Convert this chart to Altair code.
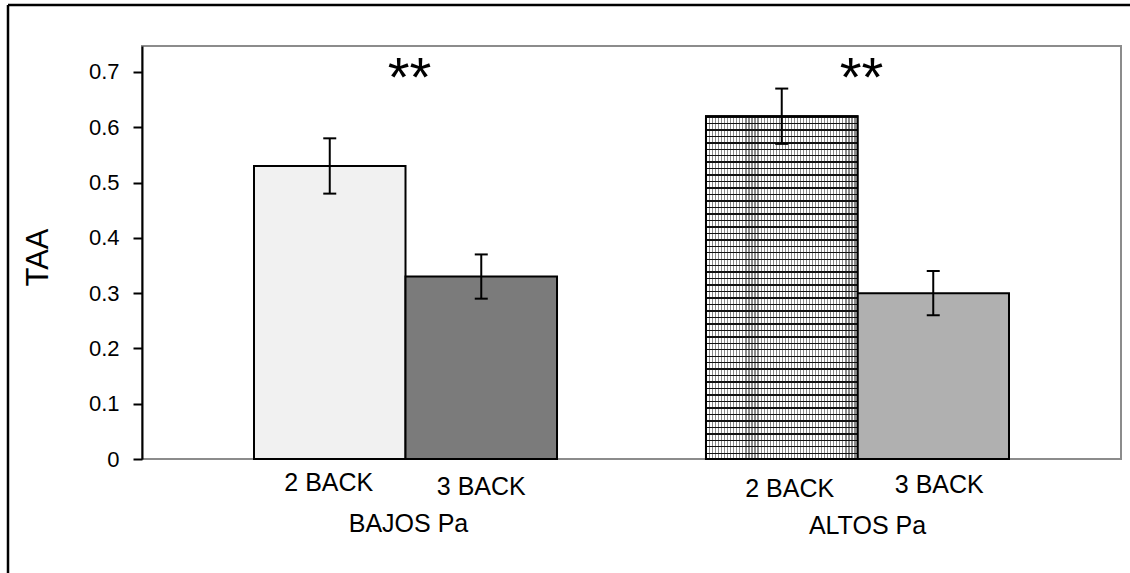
import altair as alt
import pandas as pd

# ---- data ----
groups = ["BAJOS Pa", "BAJOS Pa", "ALTOS Pa", "ALTOS Pa"]
conds = ["2 BACK", "3 BACK", "2 BACK", "3 BACK"]
means = [0.53, 0.33, 0.62, 0.30]
lower = [0.48, 0.29, 0.57, 0.26]
upper = [0.58, 0.37, 0.67, 0.34]
group_order = ["BAJOS Pa", "ALTOS Pa"]
cond_order = ["2 BACK", "3 BACK"]
sig_labels = ["**", "**"]
y_ticks = [0, 0.1, 0.2, 0.3, 0.4, 0.5, 0.6, 0.7]
y_title = "TAA"

df = pd.DataFrame({"group": groups, "cond": conds, "mean": means,
                   "lo": lower, "hi": upper})
df["key"] = df["group"] + "|" + df["cond"]
sig_df = pd.DataFrame({"group": group_order, "sig": sig_labels})

W, H = 979, 413
FONT = "Liberation Sans"

xenc = alt.X("group:N", sort=group_order, axis=None,
             scale=alt.Scale(domain=group_order, paddingInner=0.3296, paddingOuter=0.2478))
xoff = alt.XOffset("cond:N", sort=cond_order,
                   scale=alt.Scale(domain=cond_order, paddingInner=0, paddingOuter=0))
yscale = alt.Scale(domain=[0, 0.747], nice=False, zero=True)

base = alt.Chart(df)

bars = base.mark_bar(stroke="black", strokeWidth=2, opacity=1).encode(
    x=xenc, xOffset=xoff,
    y=alt.Y("mean:Q", scale=yscale,
            axis=alt.Axis(values=y_ticks, format=".1~f", grid=False,
                          domainColor="black", domainWidth=2,
                          tickColor="black", tickWidth=2, tickSize=9,
                          labelFont=FONT, labelFontSize=22, labelColor="black",
                          labelPadding=14, title=y_title, titleFont=FONT,
                          titleFontSize=31, titleFontWeight="normal",
                          titleColor="black", titleAngle=-90,
                          titleX=-104, titleY=211, titleAlign="center",
                          titleBaseline="middle")),
    color=alt.Color("key:N", legend=None,
                    scale=alt.Scale(domain=list(df["key"]),
                                    range=["#f1f1f1", "#7b7b7b", "#ffffff", "#b0b0b0"])),
)

# textured grid for the ALTOS / 2 BACK bar (style via gradients)
def stripes(n, width, line, bg, vertical):
    stops = []
    for i in range(n):
        o = i / n
        w = width / n
        stops += [alt.GradientStop(offset=o, color=bg),
                  alt.GradientStop(offset=o, color=line),
                  alt.GradientStop(offset=min(o + w, 1), color=line),
                  alt.GradientStop(offset=min(o + w, 1), color=bg)]
    if vertical:
        return alt.Gradient(gradient="linear", stops=stops, x1=0, x2=1, y1=0, y2=0)
    return alt.Gradient(gradient="linear", stops=stops, x1=0, x2=0, y1=0, y2=1)

grid_key = "ALTOS Pa|2 BACK"
tex_v = base.transform_filter(alt.datum.key == grid_key).mark_bar(
    fill=stripes(50, 0.38, "#8a8a8a", "#ffffff", True), strokeOpacity=0
).encode(x=xenc, xOffset=xoff, y=alt.Y("mean:Q", scale=yscale))
tex_h = base.transform_filter(alt.datum.key == grid_key).mark_bar(
    fill=stripes(53, 0.22, "#111111", "rgba(255,255,255,0)", False),
    stroke="black", strokeWidth=2
).encode(x=xenc, xOffset=xoff, y=alt.Y("mean:Q", scale=yscale))

err = base.mark_rule(color="black", strokeWidth=2).encode(
    x=xenc, xOffset=xoff, y=alt.Y("lo:Q", scale=yscale), y2="hi:Q")
cap_lo = base.mark_tick(color="black", thickness=2, size=13, opacity=1).encode(
    x=xenc, xOffset=xoff, y=alt.Y("lo:Q", scale=yscale))
cap_hi = base.mark_tick(color="black", thickness=2, size=13, opacity=1).encode(
    x=xenc, xOffset=xoff, y=alt.Y("hi:Q", scale=yscale))

# category labels (slightly staggered as in the reference)
def cond_label(g, c, dx, yv):
    return base.transform_filter((alt.datum.group == g) & (alt.datum.cond == c)).mark_text(
        font=FONT, fontSize=25, color="black", baseline="middle", align="center", dx=dx
    ).encode(x=xenc, xOffset=xoff, y=alt.value(yv), text="cond:N")

labels = [
    cond_label("BAJOS Pa", "2 BACK", -1, H + 24),
    cond_label("BAJOS Pa", "3 BACK", 0, H + 28),
    cond_label("ALTOS Pa", "2 BACK", 8, H + 30),
    cond_label("ALTOS Pa", "3 BACK", 6, H + 26),
]

def group_label(g, dx, yv):
    return alt.Chart(sig_df).transform_filter(alt.datum.group == g).mark_text(
        font=FONT, fontSize=25, color="black", baseline="middle", align="center", dx=dx
    ).encode(x=xenc, y=alt.value(yv), text="group:N")

glabels = [group_label("BAJOS Pa", 3, H + 65), group_label("ALTOS Pa", 10, H + 67)]

sig = alt.Chart(sig_df).mark_text(
    font=FONT, fontSize=56, fontWeight="normal", color="black",
    baseline="middle", align="center", dx=4, dy=11
).encode(x=xenc, y=alt.value(22), text="sig:N")

frame_df = pd.DataFrame({"f": [0]})
frame_top = alt.Chart(frame_df).mark_rule(color="black", strokeWidth=2.5).encode(
    x=alt.value(-134), x2=alt.value(1000), y=alt.value(-41))
frame_left = alt.Chart(frame_df).mark_rule(color="black", strokeWidth=2.5).encode(
    x=alt.value(-134), y=alt.value(-41), y2=alt.value(540))

chart = alt.layer(
    bars, tex_v, tex_h, err, cap_lo, cap_hi, *labels, *glabels, sig, frame_top, frame_left
).properties(
    width=W, height=H,
    padding={"left": 142, "top": 46, "right": 9, "bottom": 114},
    autosize=alt.AutoSizeParams(type="none"),
    background="white",
).configure_view(stroke="#8c8c8c", strokeWidth=2)

chart.save("out.html", embed_options={"renderer": "svg", "actions": False})
